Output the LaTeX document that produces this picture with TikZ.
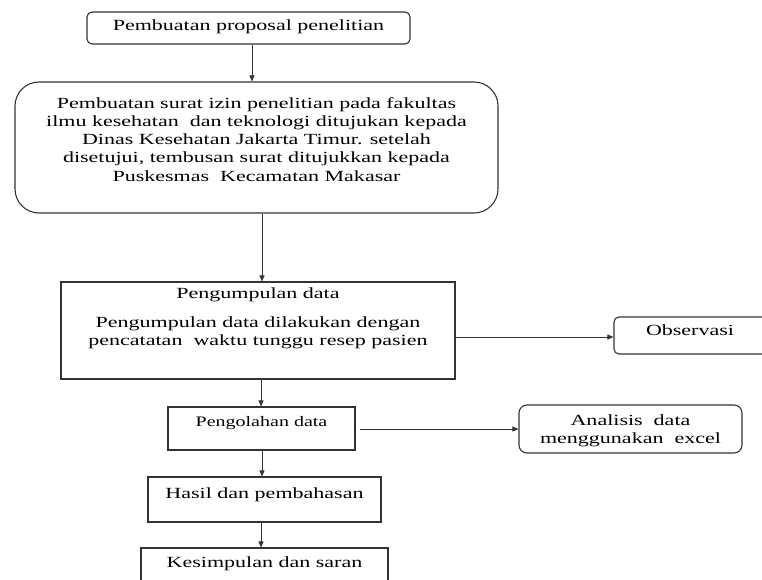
\documentclass[tikz,border=0pt]{standalone}
\usepackage{fontspec}
\setmainfont{Liberation Serif}
\usepackage{graphicx}
\usetikzlibrary{arrows.meta}
\definecolor{ln}{HTML}{333333}
\newcommand{\hs}[2][1.42]{\scalebox{#1}[1]{\begin{tabular}{@{}c@{}}#2\end{tabular}}}
\begin{document}
\begin{tikzpicture}[x=1pt,y=-1pt,
  font=\fontsize{15.5}{18.3}\selectfont,
  box/.style={draw=ln,line width=1.1pt,inner sep=0pt},
  txt/.style={inner sep=0pt,text=black},
  arr/.style={draw=ln,line width=0.8pt,-{Triangle[length=6pt,width=5pt]}}]
\useasboundingbox (0,0) rectangle (762,580);
% boxes
\node[box,rounded corners=5pt,minimum width=323pt,minimum height=32pt] (b1) at (248.5,28) {};
\node[txt] (t1) at (248.5,27) {\hs{Pembuatan proposal penelitian}};
\node[box,rounded corners=24pt,minimum width=483pt,minimum height=131pt] (b2) at (256.5,147.5) {};
\node[txt] (t2) at (256.5,141) {\hs{Pembuatan surat izin penelitian pada fakultas\\ilmu kesehatan\ \ dan teknologi ditujukan kepada\\Dinas Kesehatan Jakarta Timur. setelah\\disetujui, tembusan surat ditujukkan kepada\\Puskesmas\ \ Kecamatan Makasar}};
\node[box,minimum width=394pt,minimum height=97pt] (b3) at (258,330.5) {};
\node[txt] (t3a) at (258,295) {\hs{Pengumpulan data}};
\node[txt] (t3b) at (258,333) {\hs{Pengumpulan data dilakukan dengan\\pencatatan\ \ waktu tunggu resep pasien}};
\node[box,rounded corners=5pt,minimum width=156pt,minimum height=37pt] (obs) at (692,335.5) {};
\node[txt] (tobs) at (690,332) {\hs{Observasi}};
\node[box,minimum width=187pt,minimum height=43pt] (b4) at (261.5,428.5) {};
\node[txt] (t4) at (261.5,423) {\hs[1.38]{\fontsize{14.5}{17}\selectfont Pengolahan data}};
\node[box,rounded corners=8pt,minimum width=223pt,minimum height=48pt] (ana) at (630.5,429) {};
\node[txt] (tana) at (630.5,430.5) {\hs{\fontsize{15.5}{17}\selectfont Analisis\ \ data\\menggunakan\ \ excel}};
\node[box,minimum width=233pt,minimum height=45pt] (b5) at (264.5,499.5) {};
\node[txt] (t5) at (264.5,495) {\hs{Hasil dan pembahasan}};
\node[box,minimum width=247pt,minimum height=45pt] (b6) at (264.5,570.5) {};
\node[txt] (t6) at (264.5,564) {\hs{Kesimpulan dan saran}};
% connectors
\draw[arr] ([xshift=3.5pt]b1.south) -- ([xshift=-4.5pt]b2.north);
\draw[arr] ([xshift=5.5pt]b2.south) -- ([xshift=4pt]b3.north);
\draw[arr] ([yshift=-6.5pt]b3.east) -- ([yshift=-1.5pt]obs.west);
\draw[arr] ([xshift=3pt]b3.south) -- ([xshift=-0.5pt]b4.north);
\draw[arr] ([xshift=4pt,yshift=-0.5pt]b4.east) -- (ana.west);
\draw[arr] ([xshift=0.5pt]b4.south) -- ([xshift=-2.5pt]b5.north);
\draw[arr] ([xshift=-3.5pt]b5.south) -- ([xshift=-3.5pt]b6.north);
\end{tikzpicture}
\end{document}
